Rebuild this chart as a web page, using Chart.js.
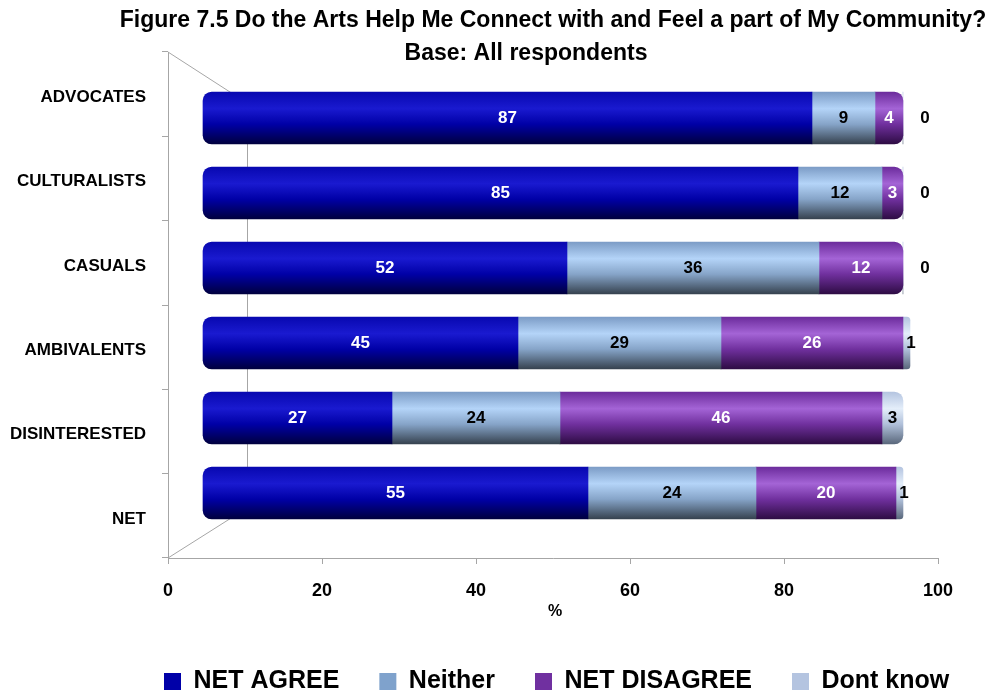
<!DOCTYPE html>
<html>
<head>
<meta charset="utf-8">
<title>Figure 7.5</title>
<script src="https://cdn.jsdelivr.net/npm/chart.js@4.4.0/dist/chart.umd.min.js"></script>
<style>
  html, body { margin: 0; padding: 0; background: #fff; }
  #wrap { width: 1001px; height: 697px; position: relative; }
</style>
</head>
<body>
<div id="wrap"><canvas id="myChart"></canvas></div>
<script>
const titleLines = ['Figure 7.5 Do the Arts Help Me Connect with and Feel a part of My Community?', 'Base: All respondents'];
const axisTitle = '%';
const groups = ['ADVOCATES', 'CULTURALISTS', 'CASUALS', 'AMBIVALENTS', 'DISINTERESTED', 'NET'];
const netAgree = [87, 85, 52, 45, 27, 55];
const neither = [9, 12, 36, 29, 24, 24];
const netDisagree = [4, 3, 12, 26, 46, 20];
const dontKnow = [0, 0, 0, 1, 3, 1];
const xTicks = [0, 20, 40, 60, 80, 100];

const FONT = '"Liberation Sans", Arial, sans-serif';
const GRAY = '#a6a6a6';
const BAR_H = 52;

// shaded tube look: top edge, highlight, body, dark underside
const shades = {
  agree: ['#0808b0', '#1a1ad0', '#0000a6', '#00003e'],
  neither: ['#7c9cc6', '#b4d4f8', '#86a4c8', '#36424f'],
  disagree: ['#6c2c9c', '#a464d6', '#70309e', '#2e0c44'],
  dontKnow: ['#b4c4e0', '#e4eefa', '#b0c0da', '#5a687c']
};

const tube = (solid, s) => (c) => {
  const chart = c.chart;
  if (!chart.chartArea || c.type !== 'data') return solid;
  const y = chart.scales.yb.getPixelForValue(c.dataIndex);
  const g = chart.ctx.createLinearGradient(0, y - BAR_H / 2, 0, y + BAR_H / 2);
  g.addColorStop(0, s[0]);
  g.addColorStop(0.32, s[1]);
  g.addColorStop(0.62, s[2]);
  g.addColorStop(1, s[3]);
  return g;
};

const asBars = (vals) => vals.map((v, i) => ({ x: v, y: i }));

// category labels are wider than the axis box: open the box to the canvas edge
const wideLabels = {
  id: 'wideLabels',
  afterLayout(chart) {
    chart.scales.y.left = 0;
  }
};

// 3d box lines behind the bars, plus the front value axis line
const frame = {
  id: 'frame',
  beforeDatasetsDraw(chart) {
    const { ctx, chartArea: a } = chart;
    const x = chart.scales.x;
    const bx = a.left + 79, topY = a.top + 51, botY = a.bottom - 50;
    const y0 = Math.round(a.bottom) + 0.5;
    ctx.save();
    ctx.strokeStyle = GRAY;
    ctx.lineWidth = 1;
    ctx.beginPath();
    ctx.moveTo(a.left, a.top); ctx.lineTo(bx, topY);
    ctx.moveTo(a.left, a.bottom); ctx.lineTo(bx, botY);
    ctx.moveTo(bx + 0.5, topY); ctx.lineTo(bx + 0.5, botY);
    ctx.moveTo(x.getPixelForValue(xTicks[0]), y0);
    ctx.lineTo(x.getPixelForValue(xTicks[xTicks.length - 1]) + 0.5, y0);
    ctx.stroke();
    ctx.restore();
  }
};

const valueLabels = {
  id: 'valueLabels',
  afterDatasetsDraw(chart) {
    const ctx = chart.ctx;
    ctx.save();
    ctx.font = 'bold 17px ' + FONT;
    ctx.textAlign = 'center';
    ctx.textBaseline = 'middle';
    chart.data.datasets.forEach((ds, di) => {
      chart.getDatasetMeta(di).data.forEach((bar, i) => {
        const v = ds.data[i].x;
        const { x, base, y } = bar.getProps(['x', 'base', 'y'], true);
        let tx = (x + base) / 2, color = ds.labelColor;
        if (v === 0) { tx = x + 22; color = '#000'; }
        else if (Math.abs(x - base) < 12) { tx = x + 1; color = '#000'; }
        ctx.fillStyle = color;
        ctx.fillText(String(v), tx, y);
      });
    });
    ctx.restore();
  }
};

const heading = {
  id: 'heading',
  afterDraw(chart) {
    const ctx = chart.ctx;
    const x = chart.scales.x;
    ctx.save();
    ctx.fillStyle = '#000';
    ctx.textAlign = 'center';
    ctx.textBaseline = 'alphabetic';
    ctx.font = 'bold 23px ' + FONT;
    ctx.fillText(titleLines[0], 553, 27);
    ctx.fillText(titleLines[1], 526, 60);
    // value axis caption under the tick labels
    ctx.font = 'bold 16px ' + FONT;
    ctx.textBaseline = 'middle';
    ctx.fillText(axisTitle, x.getPixelForValue(50) + 2, chart.chartArea.bottom + 54);
    ctx.restore();
  }
};

const series = (label, vals, solid, s, extra) => Object.assign({
  label: label,
  data: asBars(vals),
  xAxisID: 'xb',
  yAxisID: 'yb',
  solid: solid,
  backgroundColor: tube(solid, s),
  barThickness: BAR_H,
  borderWidth: 0,
  borderSkipped: false
}, extra);

const ctx = document.getElementById('myChart');

new Chart(ctx, {
  type: 'bar',
  data: {
    labels: groups,
    datasets: [
      series('NET AGREE', netAgree, '#0000A8', shades.agree,
        { borderRadius: { topLeft: 9, bottomLeft: 9 }, labelColor: '#fff' }),
      series('Neither', neither, '#7FA2CC', shades.neither,
        { labelColor: '#000' }),
      series('NET DISAGREE', netDisagree, '#7030A0', shades.disagree,
        { borderRadius: (c) => (dontKnow[c.dataIndex] === 0 ? { topRight: 9, bottomRight: 9 } : 0), labelColor: '#fff' }),
      series('Dont know', dontKnow, '#B4C4E0', shades.dontKnow,
        { borderRadius: { topRight: 9, bottomRight: 9 }, labelColor: '#000' })
    ]
  },
  options: {
    indexAxis: 'y',
    responsive: true,
    maintainAspectRatio: false,
    animation: false,
    // left padding holds the legend start; the category labels hang out past their box
    layout: { padding: { top: 52, right: 5, bottom: -7, left: 124 } },
    scales: {
      y: {
        type: 'category',
        axis: 'y',
        position: 'left',
        offset: true,
        grid: { offset: true, drawOnChartArea: false, tickLength: 6, color: GRAY },
        border: { color: GRAY },
        ticks: { font: { family: FONT, size: 17, weight: 'bold' }, color: '#000', padding: 16, labelOffset: 3 },
        afterFit: (s) => { s.width = 44; }
      },
      x: {
        type: 'linear',
        axis: 'x',
        position: 'bottom',
        min: 0,
        max: 107.53,
        afterBuildTicks: (s) => { s.ticks = xTicks.map(v => ({ value: v })); },
        grid: { drawOnChartArea: false, tickLength: 6, color: GRAY },
        border: { display: false },
        ticks: { font: { family: FONT, size: 18, weight: 'bold' }, color: '#000', padding: 16 },
        afterFit: (s) => { s.height = 71; }
      },
      xb: {
        type: 'linear',
        axis: 'x',
        display: false,
        stacked: true,
        min: -5,
        max: 113.29
      },
      yb: {
        type: 'linear',
        axis: 'y',
        display: false,
        offset: false,
        stacked: true,
        reverse: true,
        min: -0.88,
        max: 5.8667
      }
    },
    plugins: {
      legend: {
        position: 'bottom',
        align: 'start',
        labels: {
          boxWidth: 17,
          boxHeight: 17,
          padding: 40,
          color: '#000',
          font: { family: FONT, size: 25, weight: 'bold' },
          generateLabels: (chart) => Chart.defaults.plugins.legend.labels.generateLabels(chart).map((item) => {
            item.fillStyle = chart.data.datasets[item.datasetIndex].solid;
            item.strokeStyle = item.fillStyle;
            item.lineWidth = 0;
            return item;
          })
        }
      },
      tooltip: { enabled: false }
    }
  },
  plugins: [wideLabels, frame, valueLabels, heading]
});
</script>
</body>
</html>
